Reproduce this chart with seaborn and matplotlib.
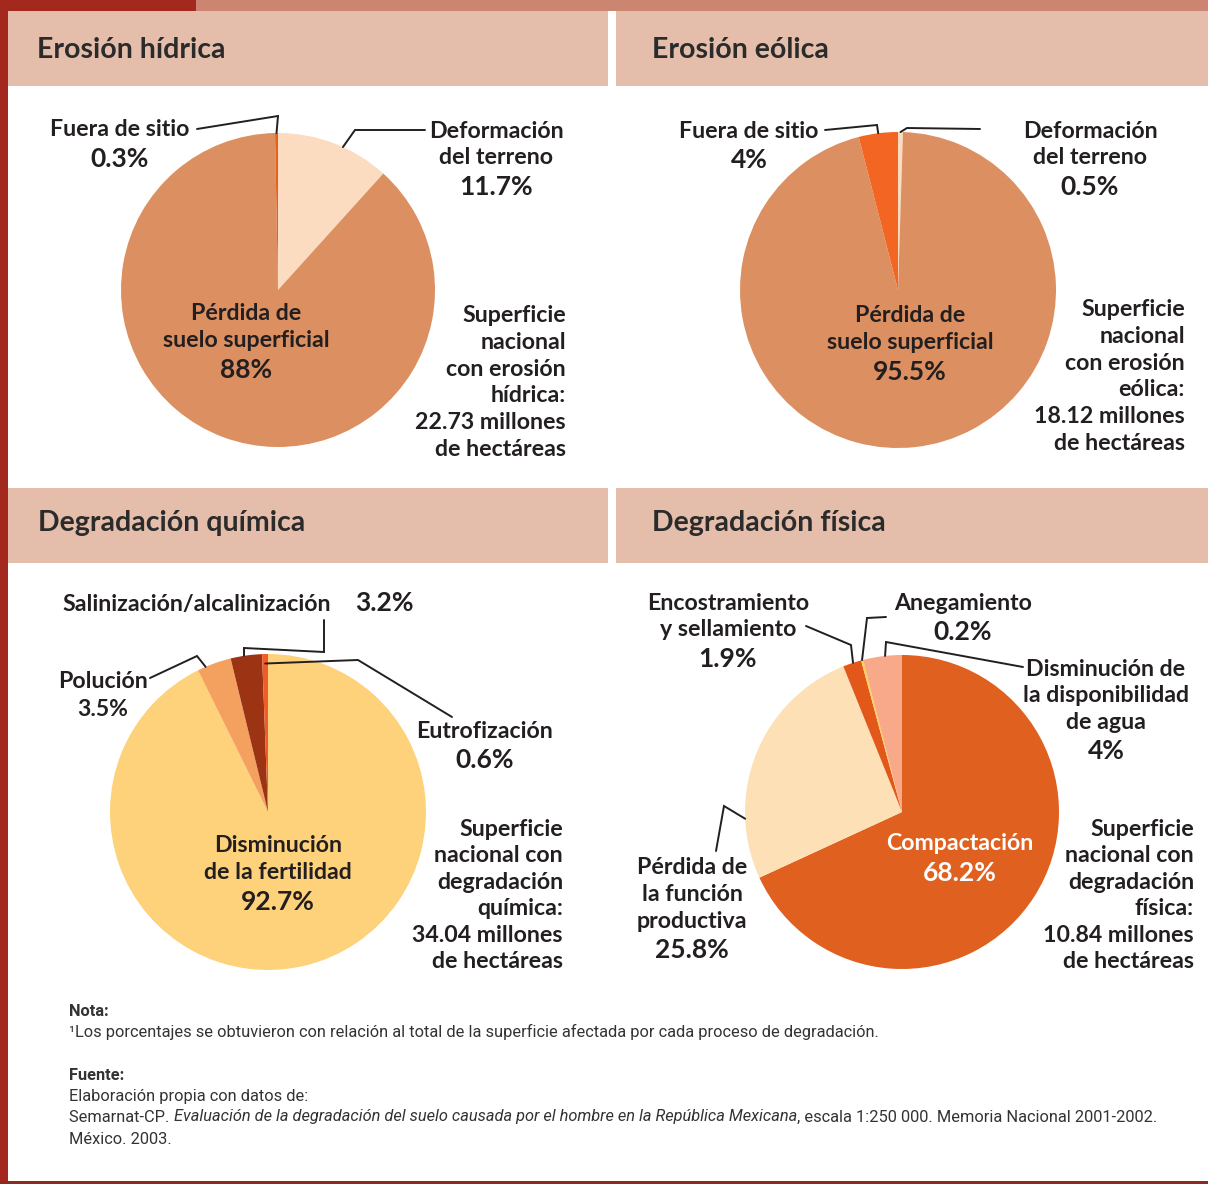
import matplotlib
matplotlib.use("Agg")
import matplotlib.pyplot as plt
from matplotlib.patches import Rectangle
import numpy as np
import seaborn as sns

sns.set_theme(style="white")
plt.rcParams['font.family'] = ['Lato', 'DejaVu Sans']

# ---- data ----
titles = ["Erosión hídrica", "Erosión eólica", "Degradación química", "Degradación física"]

hidrica_labels = ["Deformación\ndel terreno", "Pérdida de\nsuelo superficial", "Fuera de sitio"]
hidrica_values = [11.7, 88, 0.3]
hidrica_colors = ["#fbdcc0", "#dc8f60", "#e8601c"]

eolica_labels = ["Deformación\ndel terreno", "Pérdida de\nsuelo superficial", "Fuera de sitio"]
eolica_values = [0.5, 95.5, 4]
eolica_colors = ["#fbdcc0", "#dc8f60", "#f26522"]

quimica_labels = ["Disminución\nde la fertilidad", "Polución", "Salinización/alcalinización", "Eutrofización"]
quimica_values = [92.7, 3.5, 3.2, 0.6]
quimica_colors = ["#fed27a", "#f4a05e", "#9c3414", "#f15a29"]

fisica_labels = ["Compactación", "Pérdida de\nla función\nproductiva", "Encostramiento\ny sellamiento",
                 "Anegamiento", "Disminución de\nla disponibilidad\nde agua"]
fisica_values = [68.2, 25.8, 1.9, 0.2, 4]
fisica_colors = ["#e0601f", "#fde0b5", "#e2581b", "#fdd24e", "#f7a98a"]

superficie_text = ["Superficie\nnacional\ncon erosión\nhídrica:",
                   "Superficie\nnacional\ncon erosión\neólica:",
                   "Superficie\nnacional con\ndegradación\nquímica:",
                   "Superficie\nnacional con\ndegradación\nfísica:"]
millones = [22.73, 18.12, 34.04, 10.84]

W, H = 1208, 1184
DARK = "#231f20"
FS = 16.7
FSV = 19
LH = 26.6

fig = plt.figure(figsize=(W / 100, H / 100), dpi=100)
fig.patch.set_facecolor("white")

bg = fig.add_axes([0, 0, 1, 1])
bg.set_xlim(0, W)
bg.set_ylim(H, 0)
bg.axis('off')

# frame and headers
bg.add_patch(Rectangle((0, 0), 196, 11, color="#a3281d", lw=0))
bg.add_patch(Rectangle((196, 0), W - 196, 11, color="#cc8570", lw=0))
bg.add_patch(Rectangle((0, 0), 8, H, color="#a3281d", lw=0))
bg.add_patch(Rectangle((0, H - 3), W, 3, color="#8e2a20", lw=0))
for (x0, x1) in [(8, 608), (616, W)]:
    for (y0, y1) in [(11, 86), (488, 563)]:
        bg.add_patch(Rectangle((x0, y0), x1 - x0, y1 - y0, color="#e4bdab", lw=0))

title_pos = [(37, 50), (652, 50), (38, 523), (652, 523)]

panels = [
    dict(values=hidrica_values, labels=hidrica_labels, colors=hidrica_colors, geom=(278, 290, 157),
         sup=(566, 316),
         specs=[dict(xy=(496, 131), ha='center', leader=(0.42, 1.0, [(355, 130), (425, 130)])),
                dict(xy=(246, 314), ha='center', leader=None),
                dict(xy=(120, 130), ha='center', leader=(0.5, 1.0, [(278, 116), (197, 129)]))]),
    dict(values=eolica_values, labels=eolica_labels, colors=eolica_colors, geom=(898, 290, 158),
         sup=(1185, 310),
         specs=[dict(xy=(1090, 131), ha='center', leader=(0.5, 1.0, [(907, 128), (980, 129)])),
                dict(xy=(910, 316), ha='center', leader=None),
                dict(xy=(749, 131), ha='center', leader=(0.5, 1.0, [(877, 125), (825, 130)]))]),
    dict(values=quimica_values, labels=quimica_labels, colors=quimica_colors, geom=(268, 812, 158),
         sup=(563, 829),
         specs=[dict(xy=(278, 846), ha='center', leader=None),
                dict(xy=(103, 681), ha='center', vsize=16.5,
                     leader=(0.76, 1.0, [(197, 656), (150, 678)])),
                dict(xy=(62, 605), ha='left', vxy=(355, 603),
                     leader=(0.57, 1.0, [(244, 648), (324, 652), (324, 620)])),
                dict(xy=(485, 731), ha='center', leader=(0.5, 0.94, [(358, 660), (452, 717)]))]),
    dict(values=fisica_values, labels=fisica_labels, colors=fisica_colors, geom=(902, 812, 157),
         sup=(1194, 829),
         specs=[dict(xy=(960, 844), ha='center', color='white', leader=None),
                dict(xy=(692, 868), ha='center', leader=(0.76, 1.0, [(724, 806), (716, 851)])),
                dict(xy=(728, 603), ha='center', leader=(0.45, 1.0, [(851, 645), (806, 626)])),
                dict(xy=(963, 603), ha='center', leader=(0.5, 1.0, [(867, 618), (886, 617)])),
                dict(xy=(1106, 669), ha='center', leader=(0.43, 1.0, [(886, 642), (1023, 667)]))]),
]

pie_wedges = []
for p in panels:
    cx, cy, r = p['geom']
    ax = fig.add_axes([(cx - r) / W, 1 - (cy + r) / H, 2 * r / W, 2 * r / H])
    wedges, _ = ax.pie(p['values'], colors=p['colors'], startangle=90, counterclock=False,
                       radius=1, wedgeprops=dict(linewidth=0, clip_on=False))
    ax.set_xlim(-1, 1)
    ax.set_ylim(-1, 1)
    ax.axis('off')
    pie_wedges.append(wedges)

# overlay for text and leader lines
ov = fig.add_axes([0, 0, 1, 1])
ov.set_xlim(0, W)
ov.set_ylim(H, 0)
ov.axis('off')
ov.patch.set_alpha(0)

for (tx, ty), t in zip(title_pos, titles):
    ov.text(tx, ty, t, ha='left', va='center', fontsize=20.5, weight='bold', color="#2b2b2b")


def pie_point(geom, wedge, t, rf):
    cx, cy, r = geom
    ang = np.deg2rad(wedge.theta1 + t * (wedge.theta2 - wedge.theta1))
    return cx + rf * r * np.cos(ang), cy - rf * r * np.sin(ang)


for idx, (p, wedges) in enumerate(zip(panels, pie_wedges)):
    for lab, val, spec, w in zip(p['labels'], p['values'], p['specs'], wedges):
        col = spec.get('color', DARK)
        x, y = spec['xy']
        lines = lab.split("\n")
        for i, ln in enumerate(lines):
            ov.text(x, y + i * LH, ln, ha=spec['ha'], va='center', fontsize=FS,
                    weight='bold', color=col)
        vtxt = f"{val:g}%"
        vs = spec.get('vsize', FSV)
        if 'vxy' in spec:
            vx, vy = spec['vxy']
            ov.text(vx, vy, vtxt, ha='left', va='center', fontsize=vs, weight='bold', color=col)
        else:
            ov.text(x, y + (len(lines) - 1) * LH + 29, vtxt, ha=spec['ha'], va='center',
                    fontsize=vs, weight='bold', color=col)
        if spec['leader'] is not None:
            t, rf, pts = spec['leader']
            start = pie_point(p['geom'], w, t, rf)
            xs = [start[0]] + [q[0] for q in pts]
            ys = [start[1]] + [q[1] for q in pts]
            ov.plot(xs, ys, color=DARK, lw=1.4, solid_joinstyle='miter')

    # surface summary
    sx, sy = p['sup']
    sup_lines = superficie_text[idx].split("\n") + [f"{millones[idx]:.2f} millones", "de hectáreas"]
    for i, ln in enumerate(sup_lines):
        ov.text(sx, sy + i * LH, ln, ha='right', va='center', fontsize=FS, weight='bold', color=DARK)

# footer
FOOT = ['Roboto', 'DejaVu Sans']
FC = "#333333"
FFS = 11.8
ov.text(69, 1011, "Nota:", fontsize=FFS, weight='bold', family=FOOT, color=FC, va='center')
ov.text(69, 1032, "¹Los porcentajes se obtuvieron con relación al total de la superficie afectada por cada proceso de degradación.",
        fontsize=FFS, family=FOOT, color=FC, va='center')
ov.text(69, 1075, "Fuente:", fontsize=FFS, weight='bold', family=FOOT, color=FC, va='center')
ov.text(69, 1096, "Elaboración propia con datos de:", fontsize=FFS, family=FOOT, color=FC, va='center')

renderer = fig.canvas.get_renderer()
pieces = [("Semarnat-CP. ", 'normal'),
          ("Evaluación de la degradación del suelo causada por el hombre en la República Mexicana", 'italic'),
          (", escala 1:250 000. Memoria Nacional 2001-2002.", 'normal')]
xcur = 69
for txt, style in pieces:
    tt = ov.text(xcur, 1117, txt, fontsize=FFS, family=FOOT, style=style, color=FC, va='center')
    bb = tt.get_window_extent(renderer=renderer)
    xcur += bb.width
ov.text(69, 1139, "México. 2003.", fontsize=FFS, family=FOOT, color=FC, va='center')

fig.savefig("out.png", dpi=100)
